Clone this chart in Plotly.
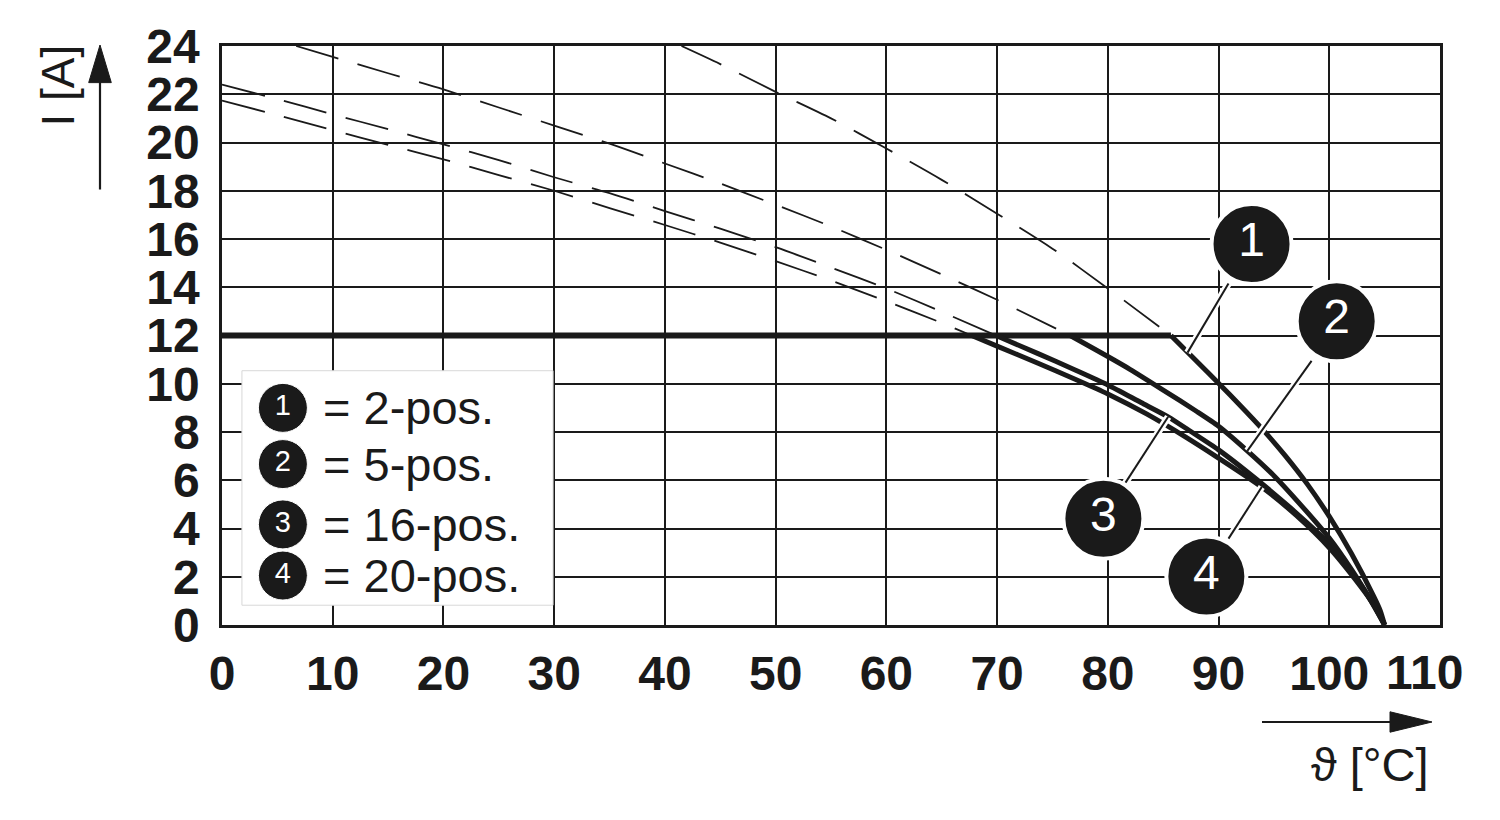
import plotly.graph_objects as go

# ---------------- data ----------------
x_ticks = [0, 10, 20, 30, 40, 50, 60, 70, 80, 90, 100, 110]
x_tick_labels = ["0", "10", "20", "30", "40", "50", "60", "70", "80", "90", "100", ""]
y_ticks = [0, 2, 4, 6, 8, 10, 12, 14, 16, 18, 20, 22, 24]

# 12 A cap (thick horizontal line)
cap_T = [0, 85.7]
cap_I = [12, 12]

# curve 1 : 2-pos.
c1_dash_T = [41.5, 45, 50, 55, 60, 65, 70, 75, 80, 85.7]
c1_dash_I = [24.0, 23.25, 22.1, 21.0, 19.75, 18.45, 17.05, 15.6, 13.95, 12.0]
c1_T = [85.7, 88, 90, 92, 94, 96, 98, 100, 102, 104, 104.6, 105]
c1_I = [12.0, 10.94, 10.02, 9.08, 8.1, 7.03, 5.85, 4.5, 2.96, 1.2, 0.6, 0.0]

# curve 2 : 5-pos.
c2_dash_T = [6.7, 10, 15, 20, 25, 30, 35, 40, 45, 50, 55, 60, 65, 70, 76.6]
c2_dash_I = [24.0, 23.55, 22.87, 22.2, 21.45, 20.7, 19.95, 19.13, 18.3, 17.42, 16.52, 15.55, 14.53, 13.48, 12.0]
c2_T = [76.6, 80, 82, 85, 88, 90, 92.6, 95, 97.5, 100, 102, 103.5, 105]
c2_I = [12.0, 11.13, 10.6, 9.74, 8.86, 8.24, 7.22, 6.19, 4.94, 3.6, 2.3, 1.2, 0.0]

# curve 3 : 16-pos.
c3_dash_T = [0, 5, 10, 15, 20, 25, 30, 35, 40, 45, 50, 55, 60, 65, 69.9]
c3_dash_I = [22.4, 21.8, 21.17, 20.55, 19.92, 19.27, 18.56, 17.9, 17.16, 16.43, 15.66, 14.82, 13.95, 12.98, 12.0]
c3_T = [69.9, 73.7, 77, 80, 83, 85.45, 87.5, 90, 93.45, 96.5, 100, 102.8, 104, 105]
c3_I = [12.0, 11.25, 10.58, 9.95, 9.22, 8.63, 8.02, 7.26, 6.03, 4.85, 3.36, 1.7, 0.85, 0.0]

# curve 4 : 20-pos.
c4_dash_T = [0, 5, 10, 15, 20, 25, 30, 35, 40, 45, 50, 55, 60, 65, 67.7]
c4_dash_I = [21.74, 21.13, 20.51, 19.9, 19.3, 18.65, 18.0, 17.28, 16.58, 15.85, 15.08, 14.28, 13.42, 12.52, 12.0]
c4_T = [67.7, 70, 73.7, 77, 80, 83.5, 87, 90, 93.9, 97, 100, 102.8, 104, 105]
c4_I = [12.0, 11.56, 10.85, 10.2, 9.58, 8.75, 7.8, 6.92, 5.72, 4.55, 3.2, 1.62, 0.85, 0.0]

# callout badges and their leader lines
badge_labels = ["1", "2", "3", "4"]
badge_T = [92.98, 100.67, 79.6, 88.9]
badge_I = [15.79, 12.59, 4.4, 2.01]
leader_T0 = [90.9, 98.4, 81.6, 90.9]
leader_I0 = [14.16, 10.95, 5.9, 3.58]
leader_T1 = [87.2, 92.6, 85.45, 93.9]
leader_I1 = [11.29, 7.22, 8.63, 5.72]

# legend block
legend_numbers = ["1", "2", "3", "4"]
legend_texts = ["= 2-pos.", "= 5-pos.", "= 16-pos.", "= 20-pos."]
legend_T = [5.5, 5.5, 5.5, 5.5]
legend_I = [9.0, 6.67, 4.17, 2.05]

# ---------------- figure ----------------
FONT = "Liberation Sans"
INK = "#1a1a1a"

# plot area in reference pixels (for decorations outside the plot)
L, R, T_, B = 222, 1440, 40, 625
PAGE_OFFSET = 8  # default body margin of the html page
FIG_W, FIG_H = 1500 - PAGE_OFFSET, 820 - PAGE_OFFSET


def px(xp):
    return (xp - L) / (R - L)


def py(yp):
    return (B - yp) / (B - T_)


fig = go.Figure()

dash_style = dict(color=INK, width=1.8, dash="44px,20px", shape="spline", smoothing=0.8)
solid_style = dict(color=INK, width=5, shape="spline", smoothing=0.6)

for tt, ii in [(c1_dash_T, c1_dash_I), (c2_dash_T, c2_dash_I),
               (c3_dash_T, c3_dash_I), (c4_dash_T, c4_dash_I)]:
    fig.add_trace(go.Scatter(x=tt, y=ii, mode="lines", line=dash_style,
                             hoverinfo="skip", showlegend=False))

fig.add_trace(go.Scatter(x=cap_T, y=cap_I, mode="lines",
                         line=dict(color=INK, width=6), hoverinfo="skip", showlegend=False))

for tt, ii in [(c1_T, c1_I), (c2_T, c2_I), (c3_T, c3_I), (c4_T, c4_I)]:
    fig.add_trace(go.Scatter(x=tt, y=ii, mode="lines", line=solid_style,
                             hoverinfo="skip", showlegend=False))

# leader lines (white halo + black core)
for k in range(4):
    xs = [leader_T0[k], leader_T1[k]]
    ys = [leader_I0[k], leader_I1[k]]
    fig.add_trace(go.Scatter(x=xs, y=ys, mode="lines", line=dict(color="white", width=7),
                             hoverinfo="skip", showlegend=False))
    fig.add_trace(go.Scatter(x=xs, y=ys, mode="lines", line=dict(color=INK, width=2),
                             hoverinfo="skip", showlegend=False))

# callout badges
fig.add_trace(go.Scatter(
    x=badge_T, y=badge_I, mode="markers+text", text=badge_labels,
    textposition="middle center",
    textfont=dict(family=FONT, size=48, color="white"),
    marker=dict(size=80, color=INK, line=dict(color="white", width=4)),
    hoverinfo="skip", showlegend=False, cliponaxis=False))

# legend box (white, below traces, above grid)
fig.add_shape(type="rect", xref="x", yref="y", x0=1.8, x1=29.9, y0=0.82, y1=10.54,
              fillcolor="white", line=dict(color="#d8d8d8", width=1), layer="between")

fig.add_trace(go.Scatter(
    x=legend_T, y=legend_I, mode="markers+text", text=legend_numbers,
    textposition="middle center",
    textfont=dict(family=FONT, size=29, color="white"),
    marker=dict(size=49, color=INK, line=dict(color="white", width=1)),
    hoverinfo="skip", showlegend=False))

for k in range(4):
    fig.add_annotation(x=8.9, y=legend_I[k], xref="x", yref="y", text=legend_texts[k],
                       showarrow=False, xanchor="left", yanchor="middle",
                       font=dict(family=FONT, size=47, color=INK))

# last x tick label, shifted left as in the reference
fig.add_annotation(x=110, y=py(673), xref="x", yref="paper", text=str(x_ticks[-1]),
                   showarrow=False, xanchor="center", yanchor="middle", xshift=-16,
                   font=dict(family=FONT, size=48, color=INK, weight="bold"))

# axis titles
fig.add_annotation(x=px(58), y=py(80), xref="paper", yref="paper", text="I [A]",
                   textangle=-90, showarrow=False, xanchor="center", yanchor="middle",
                   font=dict(family=FONT, size=46, color=INK))
fig.add_annotation(x=px(1431), y=py(766), xref="paper", yref="paper", text="ϑ [°C]",
                   showarrow=False, xanchor="right", yanchor="middle",
                   font=dict(family=FONT, size=47, color=INK))

# arrows
fig.add_shape(type="line", xref="paper", yref="paper", x0=px(100), x1=px(100),
              y0=py(185), y1=py(72), line=dict(color=INK, width=2.2))
fig.add_shape(type="path", xref="paper", yref="paper",
              path=f"M {px(100)} {py(39)} L {px(88.7)} {py(77)} L {px(111.3)} {py(77)} Z",
              fillcolor=INK, line=dict(color=INK, width=1))
fig.add_shape(type="line", xref="paper", yref="paper", x0=px(1262), x1=px(1395),
              y0=py(723), y1=py(723), line=dict(color=INK, width=2.2))
fig.add_shape(type="path", xref="paper", yref="paper",
              path=f"M {px(1432)} {py(723)} L {px(1390)} {py(712.7)} L {px(1390)} {py(733.3)} Z",
              fillcolor=INK, line=dict(color=INK, width=1))

axis_common = dict(showgrid=True, gridcolor=INK, gridwidth=2, showline=True,
                   linecolor=INK, linewidth=2.5, mirror=True, zeroline=False, ticks="",
                   tickfont=dict(family=FONT, size=48, color=INK, weight="bold"))

fig.update_xaxes(range=[0, 110], tickmode="array", tickvals=x_ticks, ticktext=x_tick_labels,
                 ticklabelstandoff=5, **axis_common)
fig.update_yaxes(range=[0, 24], tickmode="array", tickvals=y_ticks,
                 ticktext=[str(v) for v in y_ticks], ticklabelstandoff=10, **axis_common)

fig.update_layout(width=FIG_W, height=FIG_H,
                  margin=dict(l=L - PAGE_OFFSET, r=FIG_W - (R - PAGE_OFFSET),
                              t=T_ - PAGE_OFFSET, b=FIG_H - (B - PAGE_OFFSET)),
                  paper_bgcolor="white", plot_bgcolor="white", showlegend=False)

fig.write_html("out.html")
